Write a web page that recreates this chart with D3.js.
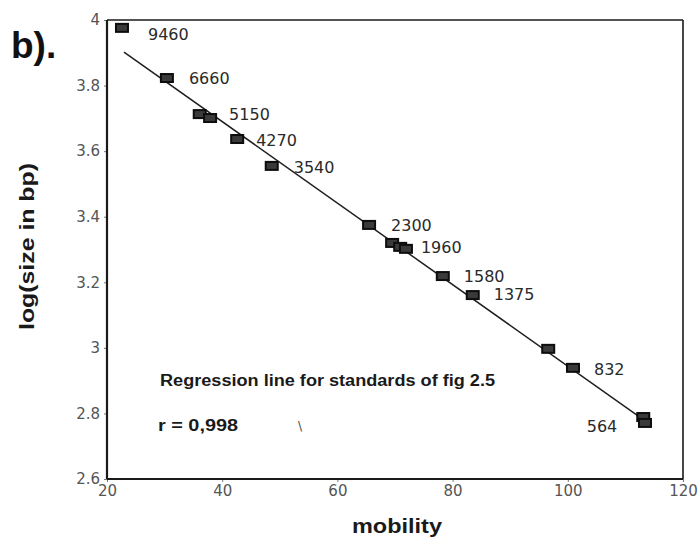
<!DOCTYPE html>
<html>
<head>
<meta charset="utf-8">
<script src="https://cdn.jsdelivr.net/npm/d3@7"></script>
<style>
  html, body { margin: 0; padding: 0; background: #fff; }
  svg { display: block; }
</style>
</head>
<body>
<div id="chart"></div>
<script>
// data
const mobility = [22.6, 30.4, 36.1, 37.9, 42.6, 48.6, 65.5, 69.5, 70.9, 71.9, 78.3, 83.5, 96.6, 100.9, 113.1, 113.4];
const logSize = [3.976, 3.823, 3.713, 3.701, 3.637, 3.555, 3.375, 3.320, 3.308, 3.302, 3.219, 3.161, 2.997, 2.939, 2.789, 2.771];
const sizeLabels = ['9460', '6660', '', '5150', '4270', '3540', '2300', '', '', '1960', '1580', '1375', '', '832', '564', ''];

// regression line end points (mobility, log size)
const fitMobility = [22.95, 112.5];
const fitLogSize = [3.902, 2.789];

const xTicks = [20, 40, 60, 80, 100, 120];
const yTicks = [2.6, 2.8, 3, 3.2, 3.4, 3.6, 3.8, 4];

const note = 'Regression line for standards of fig 2.5';
const rText = 'r = 0,998';

// layout
const width = 699, height = 540;
const margin = {t: 20, r: 16, b: 61, l: 107};

// small label nudges (px), default is 20px to the right
const nudge = {
    '9460': [26, 6], '5150': [19, -4], '4270': [19, 1], '3540': [22, 1],
    '2300': [22, 0], '1960': [15, -2], '6660': [22, 0], '1375': [21, -1],
    '1580': [21, 0], '832': [21, 1], '564': [-26, 9]
};

const svg = d3.select('#chart').append('svg')
    .attr('width', width)
    .attr('height', height)
    .style('background', '#fff');

const x = d3.scaleLinear().domain([20, 120]).range([margin.l, width - margin.r]);
const y = d3.scaleLinear().domain([2.6, 4]).range([height - margin.b, margin.t]);

// axes
const xAxis = d3.axisBottom(x).tickValues(xTicks).tickSize(3).tickPadding(3);
const yAxis = d3.axisLeft(y).tickValues(yTicks).tickSize(3).tickPadding(4)
    .tickFormat(d => +d.toFixed(1));

const gx = svg.append('g')
    .attr('transform', `translate(0,${height - margin.b})`)
    .call(xAxis);
const gy = svg.append('g')
    .attr('transform', `translate(${margin.l},0)`)
    .call(yAxis);

[gx, gy].forEach(g => {
    g.select('.domain').remove();
    g.selectAll('line').attr('stroke', '#777').attr('stroke-width', 1);
    g.selectAll('text')
        .attr('fill', '#555')
        .style('font-family', '"DejaVu Sans", sans-serif')
        .style('font-size', '15px');
});

// frame
const x0 = x.range()[0], x1 = x.range()[1], y0 = y.range()[0], y1 = y.range()[1];
const frame = svg.append('g').attr('stroke', '#1a1a1a').attr('fill', 'none');
frame.append('line').attr('x1', x0).attr('x2', x1).attr('y1', y1).attr('y2', y1).attr('stroke-width', 1.6);
frame.append('line').attr('x1', x1).attr('x2', x1).attr('y1', y1).attr('y2', y0).attr('stroke-width', 1.6);
frame.append('line').attr('x1', x0).attr('x2', x1).attr('y1', y0).attr('y2', y0).attr('stroke-width', 2.2);
frame.append('line').attr('x1', x0).attr('x2', x0).attr('y1', y1).attr('y2', y0).attr('stroke-width', 2.2);

// regression line
svg.append('line')
    .attr('x1', x(fitMobility[0])).attr('y1', y(fitLogSize[0]))
    .attr('x2', x(fitMobility[1])).attr('y2', y(fitLogSize[1]))
    .attr('stroke', '#1f1f1f')
    .attr('stroke-width', 1.5);

// points
const pts = mobility.map((m, i) => ({m, v: logSize[i], label: sizeLabels[i]}));

svg.append('g').selectAll('rect')
    .data(pts)
    .join('rect')
    .attr('x', d => x(d.m) - 6)
    .attr('y', d => y(d.v) - 4)
    .attr('width', 12)
    .attr('height', 8)
    .attr('fill', '#3a3a3a')
    .attr('stroke', '#0d0d0d')
    .attr('stroke-width', 2);

// size labels
svg.append('g').selectAll('text')
    .data(pts.filter(d => d.label))
    .join('text')
    .attr('x', d => x(d.m) + (nudge[d.label] ? nudge[d.label][0] : 20))
    .attr('y', d => y(d.v) + (nudge[d.label] ? nudge[d.label][1] : 0))
    .attr('dy', '0.36em')
    .attr('text-anchor', d => (nudge[d.label] && nudge[d.label][0] < 0) ? 'end' : 'start')
    .attr('fill', '#2a2a2a')
    .style('font-family', '"DejaVu Sans", sans-serif')
    .style('font-size', '16px')
    .text(d => d.label);

// annotations
svg.append('text')
    .attr('x', 160).attr('y', 386)
    .attr('textLength', 335).attr('lengthAdjust', 'spacingAndGlyphs')
    .attr('fill', '#1a1a1a')
    .style('font-family', '"Liberation Sans", Arial, sans-serif')
    .style('font-weight', 'bold')
    .style('font-size', '16px')
    .text(note);

svg.append('text')
    .attr('x', 158).attr('y', 431)
    .attr('textLength', 80).attr('lengthAdjust', 'spacingAndGlyphs')
    .attr('fill', '#1a1a1a')
    .style('font-family', '"Liberation Sans", Arial, sans-serif')
    .style('font-weight', 'bold')
    .style('font-size', '16px')
    .text(rText);

svg.append('text')
    .attr('x', 298).attr('y', 430)
    .attr('fill', '#444')
    .style('font-family', '"DejaVu Sans", sans-serif')
    .style('font-size', '12px')
    .text('\\');

// axis titles
svg.append('text')
    .attr('x', 397).attr('y', 533)
    .attr('text-anchor', 'middle')
    .attr('textLength', 90).attr('lengthAdjust', 'spacingAndGlyphs')
    .attr('fill', '#1a1a1a')
    .style('font-family', '"Liberation Sans", Arial, sans-serif')
    .style('font-weight', 'bold')
    .style('font-size', '20px')
    .text('mobility');

svg.append('text')
    .attr('transform', 'translate(34,246.5) rotate(-90)')
    .attr('text-anchor', 'middle')
    .attr('textLength', 167).attr('lengthAdjust', 'spacingAndGlyphs')
    .attr('fill', '#1a1a1a')
    .style('font-family', '"Liberation Sans", Arial, sans-serif')
    .style('font-weight', 'bold')
    .style('font-size', '20px')
    .text('log(size in bp)');

// panel letter
svg.append('text')
    .attr('x', 11).attr('y', 58)
    .attr('fill', '#111')
    .style('font-family', '"Liberation Sans", Arial, sans-serif')
    .style('font-weight', 'bold')
    .style('font-size', '37px')
    .text('b).');
</script>
</body>
</html>
